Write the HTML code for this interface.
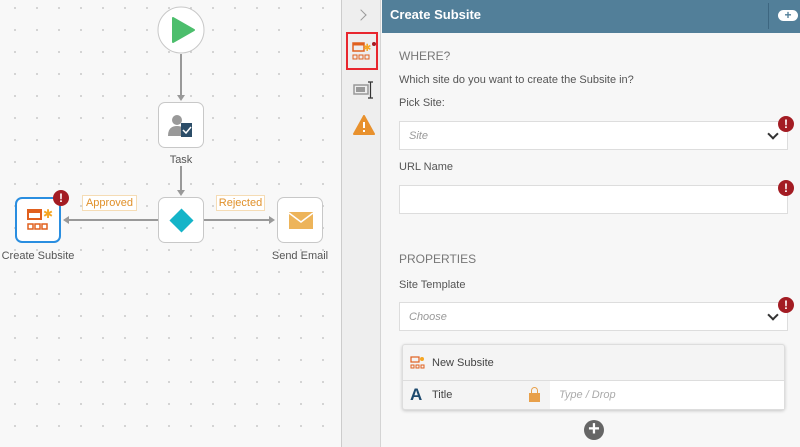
<!DOCTYPE html>
<html><head><style>
*{margin:0;padding:0;box-sizing:border-box}
body{width:800px;height:447px;overflow:hidden;font-family:"Liberation Sans",sans-serif;background:#f7f7f7;position:relative}
.a{position:absolute}
.canvas{left:0;top:0;width:341px;height:447px;background-color:#f8f8f8;background-image:radial-gradient(circle,#c8c8c8 0.8px,transparent 1px);background-size:22px 22px;background-position:4px 19px}
.node{position:absolute;width:46px;height:46px;background:#fff;border:1px solid #c8c8c8;border-radius:7px}
.lbl{position:absolute;font-size:11px;color:#555;text-align:center;width:100px}
.tag{position:absolute;height:16px;border:1px solid #f5dcb5;background:#fff;color:#e0902a;font-size:11px;line-height:14px;text-align:center}
.err{position:absolute;width:16px;height:16px;border-radius:50%;background:#a31c23;color:#fff;font-weight:bold;font-size:12px;line-height:16px;text-align:center}
.t{position:absolute;font-size:11px;color:#555}
.inp{position:absolute;left:399px;width:389px;height:29px;background:#fff;border:1px solid #ddd}
.inp i{position:absolute;left:9px;top:8px;font-size:11px;color:#999}
.chev{position:absolute;right:10px;top:8px;width:8px;height:8px;border-right:2px solid #333;border-bottom:2px solid #333;transform:rotate(45deg)}
</style></head><body>
<div class="a canvas"></div>
<svg class="a" style="left:0;top:0" width="341" height="447">
<line x1="181" y1="54" x2="181" y2="96" stroke="#999" stroke-width="2"/><polygon points="177,95 185,95 181,101" fill="#999"/>
<line x1="181" y1="166" x2="181" y2="191" stroke="#999" stroke-width="2"/><polygon points="177,190 185,190 181,196" fill="#999"/>
<line x1="158" y1="220" x2="68" y2="220" stroke="#999" stroke-width="2"/><polygon points="69,216 69,224 63,220" fill="#999"/>
<line x1="204" y1="220" x2="270" y2="220" stroke="#999" stroke-width="2"/><polygon points="269,216 269,224 275,220" fill="#999"/>
<circle cx="181" cy="30" r="23" fill="#fff" stroke="#c8c8c8"/>
<polygon points="173,18 173,42 194,30" fill="#4cbe6c" stroke="#4cbe6c" stroke-width="2" stroke-linejoin="round"/>
</svg>
<div class="node" style="left:158px;top:102px"><svg width="46" height="46"><circle cx="18" cy="17" r="5" fill="#999"/><path d="M9 33 q0-10 9-10 q6 0 7 4 v6z" fill="#999"/><rect x="22" y="20" width="11" height="14" fill="#2c4d68"/><path d="M24 27 l3 3 l5-6" stroke="#fff" stroke-width="1.5" fill="none"/></svg></div>
<div class="lbl" style="left:131px;top:154px;background:#f8f8f8;width:100px"><span>Task</span></div>
<div class="node" style="left:158px;top:197px"><div class="a" style="left:14px;top:14px;width:17px;height:17px;background:#14b4c8;transform:rotate(45deg)"></div></div>
<div class="node" style="left:15px;top:197px;border:2px solid #2a8ee0"><svg width="42" height="42"><rect x="11" y="11" width="13" height="9" fill="none" stroke="#e0601e" stroke-width="2"/><rect x="11" y="11" width="13" height="3" fill="#e0601e"/><text x="26" y="19" font-size="12" fill="#f5a623" font-family="Liberation Sans">✱</text><rect x="11" y="25" width="5" height="5" fill="none" stroke="#e0601e" stroke-width="1.5"/><rect x="18" y="25" width="5" height="5" fill="none" stroke="#e0601e" stroke-width="1.5"/><rect x="25" y="25" width="5" height="5" fill="none" stroke="#e0601e" stroke-width="1.5"/></svg></div>
<div class="err" style="left:53px;top:190px">!</div>
<div class="lbl" style="left:-12px;top:250px">Create Subsite</div>
<div class="node" style="left:277px;top:197px"><svg width="46" height="46"><rect x="11" y="14" width="24" height="17" fill="#edb45a"/><path d="M11 15 l12 9 l12-9" stroke="#fff" stroke-width="1.5" fill="none"/></svg></div>
<div class="lbl" style="left:250px;top:250px">Send Email</div>
<div class="tag" style="left:82px;top:195px;width:55px">Approved</div>
<div class="tag" style="left:216px;top:195px;width:49px">Rejected</div>
<div class="a" style="left:341px;top:0;width:1px;height:447px;background:#ccc"></div>
<div class="a" style="left:342px;top:0;width:39px;height:447px;background:#eeeeee;border-right:1px solid #d4d4d4"></div>
<div class="a" style="left:357px;top:11px;width:8px;height:8px;border-right:1.5px solid #999;border-top:1.5px solid #999;transform:rotate(45deg)"></div>
<div class="a" style="left:346px;top:32px;width:32px;height:38px;border:2px solid #e8262e"></div>
<svg class="a" style="left:352px;top:40px" width="26" height="24"><rect x="1" y="3" width="11" height="8" fill="none" stroke="#e0601e" stroke-width="1.5"/><rect x="1" y="3" width="11" height="2.5" fill="#e0601e"/><text x="11" y="11" font-size="10" fill="#f5a623" font-family="Liberation Sans">✱</text><circle cx="22" cy="4" r="2" fill="#a31c23"/><rect x="1" y="15" width="4" height="4" fill="none" stroke="#e0601e"/><rect x="7" y="15" width="4" height="4" fill="none" stroke="#e0601e"/><rect x="13" y="15" width="4" height="4" fill="none" stroke="#e0601e"/></svg>
<svg class="a" style="left:352px;top:80px" width="24" height="20"><rect x="2" y="5" width="14" height="9" fill="none" stroke="#999" stroke-width="1.5"/><rect x="4" y="7" width="9" height="5" fill="#999"/><path d="M16 2 h5 M18.5 2 v16 M16 18 h5" stroke="#333" stroke-width="1.2"/></svg>
<svg class="a" style="left:353px;top:115px" width="22" height="20"><polygon points="11,1 21,19 1,19" fill="#e8912d" stroke="#e8912d" stroke-linejoin="round" stroke-width="2"/><rect x="10" y="7" width="2" height="6" fill="#fff"/><rect x="10" y="15" width="2" height="2" fill="#fff"/></svg>
<div class="a" style="left:382px;top:0;width:418px;height:33px;background:#527f99"></div>
<div class="a" style="left:390px;top:7px;font-size:13px;color:#fff;font-weight:bold">Create Subsite</div>
<div class="a" style="left:768px;top:3px;width:1px;height:26px;background:#3d6680"></div>
<div class="a" style="left:778px;top:10px;width:20px;height:11px;background:#fff;border-radius:6px;color:#527f99;font-weight:bold;font-size:12px;line-height:11px;text-align:center">+</div>
<div class="t" style="left:399px;top:49px;font-size:12px;color:#777">WHERE?</div>
<div class="t" style="left:399px;top:74px">Which site do you want to create the Subsite in?</div>
<div class="t" style="left:399px;top:97px">Pick Site:</div>
<div class="inp" style="top:121px"><i>Site</i><div class="chev"></div></div>
<div class="err" style="left:778px;top:116px">!</div>
<div class="t" style="left:399px;top:161px">URL Name</div>
<div class="inp" style="top:185px"></div>
<div class="err" style="left:778px;top:180px">!</div>
<div class="t" style="left:399px;top:252px;font-size:12px;color:#777">PROPERTIES</div>
<div class="t" style="left:399px;top:279px">Site Template</div>
<div class="inp" style="top:302px"><i>Choose</i><div class="chev"></div></div>
<div class="err" style="left:778px;top:297px">!</div>
<div class="a" style="left:402px;top:344px;width:383px;height:66px;background:#f4f4f4;border:1px solid #ddd;border-radius:3px;box-shadow:0 1px 3px rgba(0,0,0,.2)"></div>
<svg class="a" style="left:410px;top:356px" width="16" height="14"><rect x="1" y="1" width="8" height="5" fill="none" stroke="#e0601e" stroke-width="1.2"/><circle cx="12" cy="3" r="2" fill="#f5a623"/><rect x="1" y="9" width="3" height="3" fill="none" stroke="#e0601e"/><rect x="6" y="9" width="3" height="3" fill="none" stroke="#e0601e"/><rect x="11" y="9" width="3" height="3" fill="none" stroke="#e0601e"/></svg>
<div class="t" style="left:432px;top:357px;color:#444">New Subsite</div>
<div class="a" style="left:403px;top:380px;width:381px;height:1px;background:#ddd"></div>
<div class="a" style="left:550px;top:381px;width:234px;height:28px;background:#fff"></div>
<div class="a" style="left:410px;top:385px;font-size:17px;font-weight:bold;color:#1e4a6e">A</div>
<div class="t" style="left:432px;top:389px;color:#444">Title</div>
<div class="a" style="left:529px;top:393px;width:11px;height:9px;background:#e8a04a"></div>
<div class="a" style="left:531px;top:387px;width:7px;height:7px;border:1.5px solid #e8a04a;border-bottom:none;border-radius:4px 4px 0 0"></div>
<div class="t" style="left:559px;top:389px;color:#aaa;font-style:italic">Type / Drop</div>
<div class="a" style="left:584px;top:420px;width:20px;height:20px;border-radius:50%;background:#666;color:#fff;font-size:20px;line-height:19px;text-align:center;font-weight:bold">+</div>
</body></html>
